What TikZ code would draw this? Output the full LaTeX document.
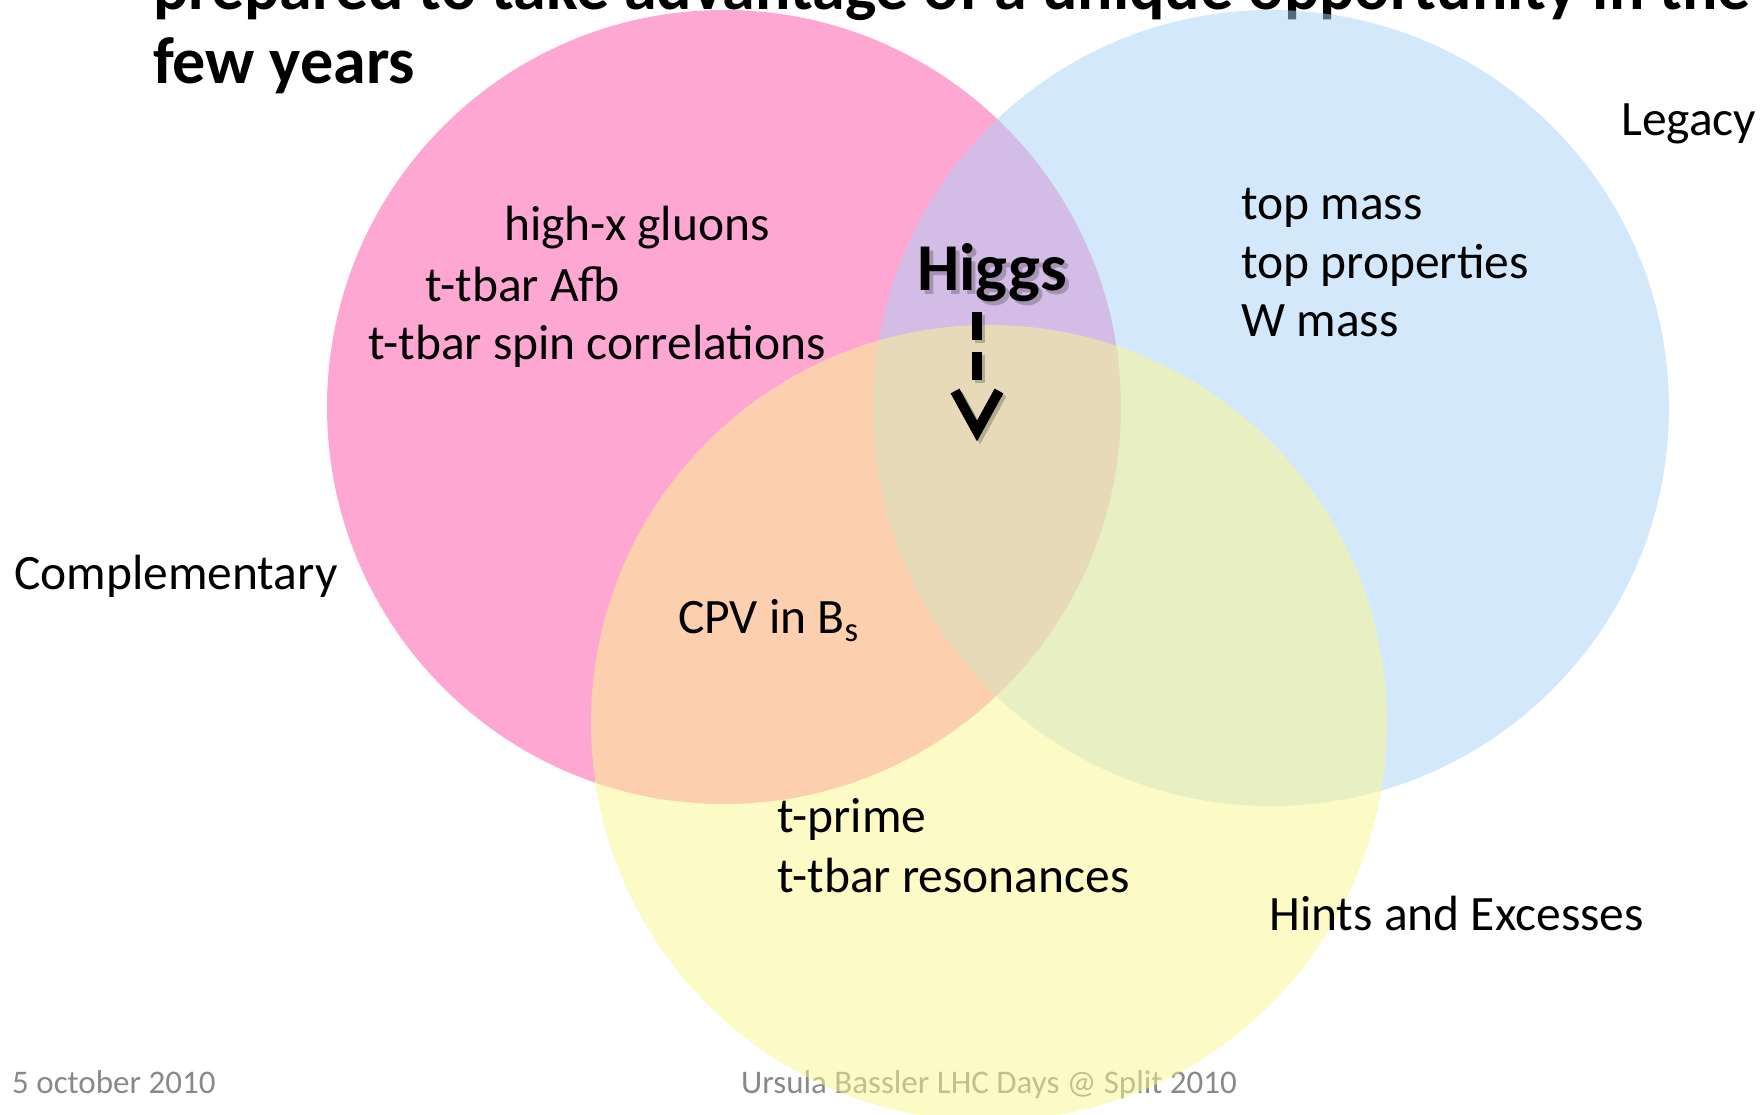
\documentclass[tikz,border=0pt]{standalone}
\usepackage{fontspec}
\setmainfont{Carlito}
\usetikzlibrary{calc}
\definecolor{pinkbase}{RGB}{255,81,169}
\definecolor{bluebase}{RGB}{169,211,249}
\definecolor{yellowbase}{RGB}{251,247,141}
\definecolor{footgray}{RGB}{137,137,137}
\begin{document}
\begin{tikzpicture}[x=1pt,y=-1pt,
  venn/.style={fill opacity=0.5},
  lbl/.style={anchor=base west, inner sep=0pt, font=\fontsize{49.5}{58}\selectfont},
  titletext/.style={anchor=base west, inner sep=0pt, font=\fontsize{66}{72}\selectfont\bfseries},
  foot/.style={anchor=base west, inner sep=0pt, text=footgray, font=\fontsize{33}{40}\selectfont},
  higgsstyle/.style={anchor=base west, inner sep=0pt, font=\fontsize{67}{72}\selectfont\bfseries},
  shaft/.style={line width=10pt, dash pattern=on 28pt off 12pt},
  barb/.style={line width=10pt, line join=miter, line cap=butt}
]
\useasboundingbox (0,0) rectangle (1764,1114);
\clip (0,0) rectangle (1764,1114);
\fill[white] (0,0) rectangle (1764,1114);

% title and footer (under the circles)
\node[titletext] (title1) at (153,9) {prepared to take advantage of a unique opportunity in the};
\node[titletext] (title2) at (153,83) {few years};
\node[foot] (date) at (12,1093) {5 october 2010};
\node[foot] (author) at (741,1093) {Ursula Bassler LHC Days @ Split 2010};

% circles
\fill[pinkbase, venn] (724,407) circle[radius=397];
\fill[bluebase, venn] (1271,408) circle[radius=398];
\fill[yellowbase, venn] (989,723) circle[radius=398];

% labels
\node[lbl] (legacy) at (1621,135) {Legacy};
\node[lbl] (compl) at (14,589) {Complementary};
\node[lbl] (hints) at (1269,930) {Hints and Excesses};

\node[lbl] (gluons) at (504,240) {high-x gluons};
\node[lbl] (afb) at (425,301) {t-tbar Afb};
\node[lbl] (spin) at (368,359) {t-tbar spin correlations};

\node[lbl] (topmass) at (1241,219) {top mass};
\node[lbl] (topprop) at (1241,278) {top properties};
\node[lbl] (wmass) at (1241,336) {W mass};

\node[lbl] (cpv) at (678,633) {CPV in B\textsubscript{s}};

\node[lbl] (tprime) at (777,832) {t-prime};
\node[lbl] (reson) at (777,892) {t-tbar resonances};

% Higgs with shadow
\node[higgsstyle, text=black, opacity=0.22] (higgsshadow) at (921,294) {Higgs};
\node[higgsstyle] (higgs) at (917,290) {Higgs};

% dashed arrow
\coordinate (astart) at (977,312);
\coordinate (aend) at (977,380);
\coordinate (atip) at (977,431);
\draw[shaft, black, opacity=0.22] ($(astart)+(3,3)$) -- ($(aend)+(3,3)$);
\draw[barb, black, opacity=0.22] ($(atip)+(-19,-37)$) -- ($(atip)+(3,3)$) -- ($(atip)+(25,-37)$);
\draw[shaft] (astart) -- (aend);
\draw[barb] ($(atip)+(-22,-40)$) -- (atip) -- ($(atip)+(22,-40)$);
\end{tikzpicture}
\end{document}
